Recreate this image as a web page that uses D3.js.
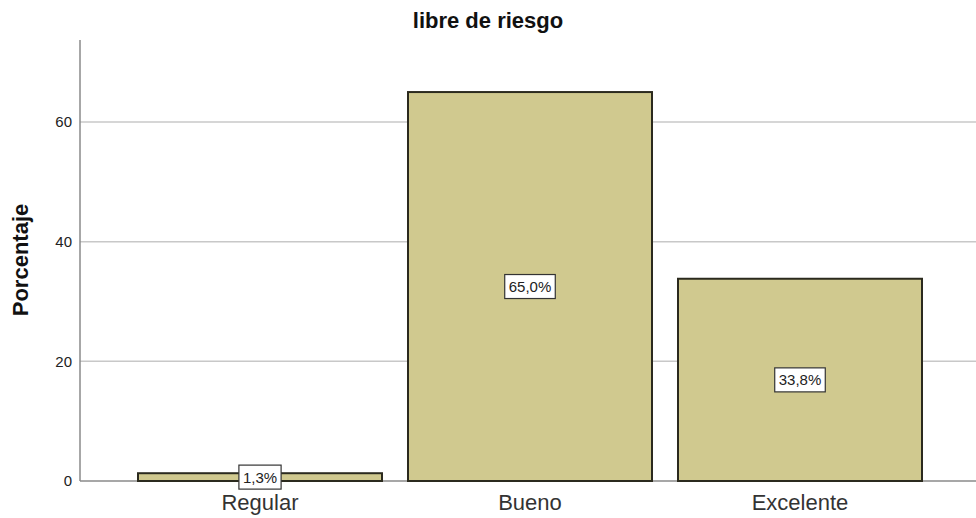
<!DOCTYPE html>
<html><head><meta charset="utf-8">
<script src="https://cdn.jsdelivr.net/npm/d3@7"></script>
<style>body{margin:0;background:#fff}svg{display:block}text{font-family:Arial,"Liberation Sans",sans-serif}</style>
</head><body>
<svg id="c" width="976" height="518"></svg>
<script>
const categories = ["Regular", "Bueno", "Excelente"];
const values = [1.3, 65.0, 33.8];
const valueLabels = ["1,3%", "65,0%", "33,8%"];
const yTicks = [0, 20, 40, 60];
const title = "libre de riesgo";
const yTitle = "Porcentaje";

const svg = d3.select("#c");
const mLeft = 80, mRight = 976, mTop = 40, mBottom = 481;
const y = d3.scaleLinear().domain([0, 73.7]).range([mBottom, mTop]);
const x = d3.scaleBand().domain(categories).range([112, 948]).paddingInner(0.0963).paddingOuter(0.0963);

// gridlines
svg.append("g").selectAll("line").data(yTicks.filter(d => d > 0)).join("line")
  .attr("x1", mLeft).attr("x2", mRight).attr("y1", d => y(d)).attr("y2", d => y(d))
  .attr("stroke", "#c8c8c8").attr("stroke-width", 1.5);

// y axis
const yAxis = d3.axisLeft(y).tickValues(yTicks).tickSize(0).tickPadding(8).tickFormat(d3.format("d"));
const gy = svg.append("g").attr("transform", `translate(${mLeft},0)`).call(yAxis);
gy.select(".domain").attr("stroke", "#8a8a8a").attr("stroke-width", 1.5).attr("d", `M0,${mTop}V${mBottom}`);
gy.selectAll("text").attr("font-size", 15).attr("fill", "#222");

// x baseline
const xAxis = d3.axisBottom(x).tickSize(0).tickPadding(13);
const gx = svg.append("g").attr("transform", `translate(0,${mBottom})`).call(xAxis);
gx.select(".domain").attr("stroke", "#8a8a8a").attr("stroke-width", 1.5).attr("d", `M${mLeft},0H${mRight}`);
gx.selectAll("text").attr("font-size", 22).attr("fill", "#333");

// bars
svg.append("g").selectAll("rect").data(values).join("rect")
  .attr("x", (d, i) => x(categories[i]))
  .attr("width", x.bandwidth())
  .attr("y", d => y(d))
  .attr("height", d => y(0) - y(d))
  .attr("fill", "#d0c98f").attr("stroke", "#2b2a1e").attr("stroke-width", 2);

// value labels
const lg = svg.append("g");
values.forEach((v, i) => {
  const cx = x(categories[i]) + x.bandwidth() / 2;
  const cy = (y(v) + y(0)) / 2;
  const g = lg.append("g");
  const t = g.append("text").attr("x", cx).attr("y", cy + 5.5).attr("text-anchor", "middle")
    .attr("font-size", 15).attr("fill", "#222").text(valueLabels[i]);
  const bb = t.node().getBBox();
  g.insert("rect", "text").attr("x", cx - bb.width / 2 - 4).attr("y", cy - 12).attr("width", bb.width + 8).attr("height", 24)
    .attr("fill", "#fff").attr("stroke", "#333").attr("stroke-width", 1.2);
});

// title
svg.append("text").attr("x", 488).attr("y", 28).attr("text-anchor", "middle")
  .attr("font-size", 22).attr("font-weight", "bold").attr("fill", "#111").text(title);

// y title
svg.append("text").attr("transform", `translate(28,260) rotate(-90)`)
  .attr("text-anchor", "middle").attr("font-size", 22).attr("font-weight", "bold").attr("fill", "#111").text(yTitle);
</script>
</body></html>
